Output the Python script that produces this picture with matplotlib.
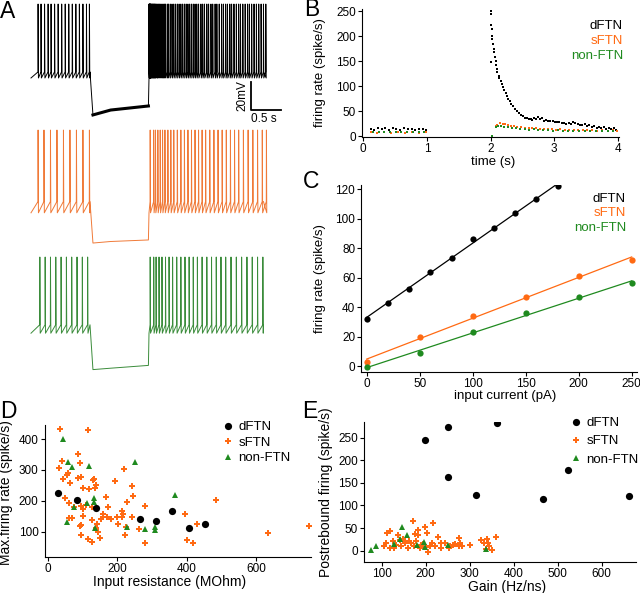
import numpy as np
import matplotlib.pyplot as plt

plt.rcParams['font.family'] = ['Liberation Sans', 'DejaVu Sans']

BLACK = 'black'
ORANGE = '#ff6a13'
GREEN = '#1f8a1f'
ORANGE_TRACE = '#f07a38'
GREEN_TRACE = '#3b8c3b'

# --- B: instantaneous firing rate (dots are at spike times) ---
dftn_t = [0.12, 0.17, 0.23, 0.29, 0.34, 0.40, 0.46, 0.52, 0.58, 0.64, 0.70, 0.76, 0.82, 0.88, 0.94, 0.99,
          2.00, 2.005, 2.01, 2.015, 2.02, 2.025, 2.03, 2.04, 2.05, 2.06, 2.07, 2.08, 2.09, 2.10, 2.11,
          2.13, 2.14, 2.16, 2.18, 2.20, 2.22, 2.24, 2.26, 2.28, 2.31, 2.33, 2.36, 2.39, 2.42, 2.45,
          2.48, 2.51, 2.54, 2.57, 2.60, 2.63, 2.66, 2.69, 2.72, 2.75, 2.78, 2.81, 2.84, 2.88, 2.91,
          2.94, 2.98, 3.01, 3.05, 3.08, 3.12, 3.15, 3.19, 3.23, 3.26, 3.30, 3.33, 3.37, 3.40, 3.44,
          3.48, 3.52, 3.55, 3.59, 3.63, 3.67, 3.70, 3.74, 3.78, 3.82, 3.86, 3.90, 3.94, 3.98]
dftn_rate = [15, 13, 16, 14, 17, 13, 16, 15, 12, 16, 14, 15, 13, 15, 14, 13,
             250, 245, 148, 222, 215, 200, 195, 185, 175, 168, 158, 150, 142, 135, 128,
             121, 116, 110, 104, 98, 92, 86, 80, 75, 70, 65, 60, 55, 50, 46,
             43, 40, 37, 36, 35, 35, 33, 37, 35, 38, 34, 36, 31, 33, 31,
             30, 30, 29, 28, 29, 27, 26, 25, 26, 24, 28, 26, 25, 23, 22,
             24, 20, 22, 18, 20, 17, 19, 16, 18, 15, 17, 14, 16, 13]

sftn_t = [0.12, 0.22, 0.33, 0.44, 0.55, 0.66, 0.77, 0.88, 0.99,
          2.02, 2.08, 2.11, 2.15, 2.19, 2.23, 2.27, 2.32, 2.37, 2.42, 2.48, 2.54, 2.60, 2.66, 2.72,
          2.78, 2.84, 2.90, 2.96, 3.03, 3.10, 3.17, 3.24, 3.31, 3.38, 3.45, 3.52, 3.60, 3.68, 3.76,
          3.84, 3.92, 3.99]
sftn_rate = [8, 7, 8, 7, 8, 7, 8, 7, 8,
             1, 20, 23, 26, 25, 24, 23, 21, 20, 19, 18, 17, 17, 16, 16,
             15, 15, 14, 14, 13, 14, 13, 13, 12, 13, 12, 12, 12, 11, 12,
             11, 12, 11]

nonftn_t = [0.15, 0.24, 0.33, 0.42, 0.51, 0.60, 0.69, 0.78, 0.87, 0.96,
            2.02, 2.08, 2.12, 2.17, 2.22, 2.28, 2.34, 2.40, 2.47, 2.54, 2.61, 2.68, 2.75, 2.82,
            2.90, 2.98, 3.06, 3.14, 3.22, 3.30, 3.39, 3.48, 3.57, 3.66, 3.75, 3.84, 3.93]
nonftn_rate = [9, 8, 9, 8, 9, 8, 9, 8, 9, 8,
               0, 18, 20, 21, 19, 18, 17, 16, 15, 14, 13, 14, 12, 13,
               12, 11, 12, 11, 10, 11, 10, 11, 10, 10, 11, 10, 11]

# --- A: voltage trace levels (same cells as B) ---
step_on, step_off = 1.0, 2.0
hyp_times = [1.05, 1.35, 1.99]
dftn_levels = (-55.7, -51.4, -2.9)      # trough, threshold, peak
sftn_levels = (-152.0, -144.0, -92.9)
nonftn_levels = (-238.0, -232.0, -183.6)
dftn_hyp = [-82.1, -78.6, -75.7]
sftn_hyp = [-173.6, -172.5, -171.4]
nonftn_hyp = [-264.0, -263.0, -261.0]

# --- C: f-I curves ---
dftn_current = [0, 20, 40, 60, 80, 100, 120, 140, 160, 180]
dftn_fi = [32, 42.5, 52.5, 64, 73.5, 86, 93.5, 104, 113, 122]
sftn_current = [0, 50, 100, 150, 200, 250]
sftn_fi = [2.5, 19.5, 34, 47, 61, 72]
nonftn_current = [0, 50, 100, 150, 200, 250]
nonftn_fi = [-0.5, 8.5, 23, 36, 46.5, 56.5]

# --- D: max firing rate vs input resistance ---
d_dftn_r = [29, 82, 138, 265, 310, 358, 407, 453]
d_dftn_f = [226, 203, 176, 140, 134, 167, 111, 124]
d_sftn_r = [35, 114, 87, 39, 92, 32, 58, 53, 42, 63,
            87, 96, 128, 132, 101, 118, 135, 138, 193, 219,
            243, 48, 60, 166, 244, 228, 279, 173, 94, 101,
            125, 212, 157, 159, 212, 241, 198, 181, 61, 152,
            125, 95, 142, 138, 202, 262, 225, 279, 96, 222,
            114, 125, 149, 395, 431, 400, 417, 485, 634, 754,
            91, 171, 215, 108, 70, 100, 145, 75]
d_sftn_f = [431, 429, 351, 330, 323, 305, 289, 283, 270, 259,
            273, 276, 267, 270, 240, 238, 240, 251, 265, 302,
            248, 208, 192, 213, 216, 195, 183, 179, 183, 173,
            179, 168, 157, 149, 149, 149, 149, 140, 143, 140,
            138, 121, 125, 111, 125, 108, 114, 63, 90, 89,
            76, 67, 79, 156, 125, 74, 64, 203, 95, 119,
            119, 149, 157, 185, 145, 150, 100, 180]
d_nonftn_r = [42, 56, 68, 119, 251, 366, 113, 133, 133, 74, 55, 135, 227, 280, 308, 309]
d_nonftn_f = [400, 324, 310, 314, 327, 219, 194, 210, 196, 179, 131, 111, 116, 109, 116, 105]

# --- E: postrebound firing vs gain ---
e_dftn_g = [198, 251, 363, 250, 314, 467, 523, 663]
e_dftn_f = [245, 273, 282, 162, 123, 114, 178, 122]
e_sftn_g = [171, 217, 112, 118, 198, 202, 183, 183, 229, 234,
            110, 105, 118, 125, 133, 141, 144, 152, 160, 167,
            174, 179, 187, 194, 206, 210, 215, 221, 244, 256,
            267, 275, 279, 282, 275, 325, 332, 340, 359, 344,
            351, 336, 342, 252, 137, 176, 128, 148, 163, 190,
            200, 235, 262, 300]
e_sftn_f = [65, 62, 40, 43, 52, 40, 46, 35, 30, 17,
            17, 10, 6, 21, 13, 23, 10, 17, 6, 17,
            11, 21, 6, 15, -4, 11, 18, 10, 17, 11,
            15, 10, 18, 10, 28, 24, 17, 26, 30, 11,
            2, 4, 17, 6, 35, 37, 5, 25, 22, 12,
            8, 5, 13, 12]
e_nonftn_g = [75, 88, 146, 157, 141, 196, 199, 250, 336, 180, 128]
e_nonftn_f = [2, 10, 53, 34, 26, 20, 8, 12, 4, 12, 15]


def style_axes(ax, tick_size):
    for side in ['top', 'right']:
        ax.spines[side].set_visible(False)
    for side in ['left', 'bottom']:
        ax.spines[side].set_linewidth(0.8)
    ax.tick_params(direction='out', length=3, width=0.8, labelsize=tick_size, pad=1.5)


# build a sawtooth voltage trace from spike times
def make_trace(times, levels, hyp):
    trough, tip, peak = levels
    xs, ys = [0.0], [trough]
    pre = [t for t in times if t < step_on]
    post = [t for t in times if t >= step_off]
    for t in pre:
        xs += [t - 0.002, t, t + 0.006]
        ys += [tip, peak, trough]
    xs += [step_on] + hyp_times + [step_off]
    ys += [tip] + hyp + [trough]
    for t in post:
        xs += [t - 0.002, t, t + 0.006]
        ys += [tip, peak, trough]
    xs.append(3.94)
    ys.append(tip)
    return xs, ys


fig = plt.figure(figsize=(6.4, 5.93), dpi=100)
W, H = 640.0, 593.0


def add_axes_px(left, top, right, bottom):
    return fig.add_axes([left / W, (H - bottom) / H, (right - left) / W, (bottom - top) / H])


# Panel A
axA = add_axes_px(20, 0, 290, 385)
axA.set_xlim(-11 / 59, 259 / 59)
axA.set_ylim(-275, 0)
axA.axis('off')
for times, levels, hyp, col in [(dftn_t, dftn_levels, dftn_hyp, BLACK),
                                (sftn_t, sftn_levels, sftn_hyp, ORANGE_TRACE),
                                (nonftn_t, nonftn_levels, nonftn_hyp, GREEN_TRACE)]:
    xs, ys = make_trace(times, levels, hyp)
    axA.plot(xs, ys, color=col, lw=0.7)
axA.plot(hyp_times, dftn_hyp, color=BLACK, lw=2.2)
sb_x, sb_y = 3.73, -78.6
axA.plot([sb_x, sb_x, sb_x + 0.5], [sb_y + 20, sb_y, sb_y], color=BLACK, lw=1.3)
axA.text(sb_x - 0.14, sb_y + 10, '20mV', rotation=90, ha='center', va='center', fontsize=8.5)
axA.text(sb_x + 0.22, sb_y - 6.5, '0.5 s', ha='center', va='center', fontsize=8.5)

# Panel B
axB = add_axes_px(362, 9, 619, 137)
axB.plot(dftn_t, dftn_rate, 's', ms=1.7, mew=0, color=BLACK)
axB.plot(sftn_t, sftn_rate, 's', ms=1.7, mew=0, color=ORANGE)
axB.plot(nonftn_t, nonftn_rate, 's', ms=1.7, mew=0, color=GREEN)
axB.set_xlim(-0.02, 4.02)
axB.set_ylim(-2, 255)
axB.set_xticks([0, 1, 2, 3, 4])
axB.set_yticks([0, 50, 100, 150, 200, 250])
style_axes(axB, 8.5)
axB.set_xlabel('time (s)', fontsize=9.5)
axB.set_ylabel('firing rate (spike/s)', fontsize=9.5)
axB.xaxis.set_label_coords(0.51, -0.148)
axB.yaxis.set_label_coords(-0.14, 0.5)
for lab, col, yy in [('dFTN', BLACK, 0.867), ('sFTN', ORANGE, 0.75), ('non-FTN', GREEN, 0.633)]:
    axB.text(1.016, yy, lab, color=col, fontsize=9.5, ha='right', va='center', transform=axB.transAxes)

# Panel C
axC = add_axes_px(361.4, 184.7, 637, 371.9)
for cur, fi, col, xmax in [(dftn_current, dftn_fi, BLACK, 180),
                           (sftn_current, sftn_fi, ORANGE, 250),
                           (nonftn_current, nonftn_fi, GREEN, 250)]:
    slope, icpt = np.polyfit(cur, fi, 1)
    axC.plot([0, xmax], [icpt, icpt + slope * xmax], color=col, lw=0.9)
    axC.plot(cur, fi, 'o', ms=4.5, mew=0, color=col)
axC.set_xlim(-5, 255)
axC.set_ylim(-4, 123)
axC.set_xticks([0, 50, 100, 150, 200, 250])
axC.set_yticks([0, 20, 40, 60, 80, 100, 120])
style_axes(axC, 8.5)
axC.set_xlabel('input current (pA)', fontsize=9.5)
axC.set_ylabel('firing rate (spike/s)', fontsize=9.5)
axC.xaxis.set_label_coords(0.52, -0.097)
axC.yaxis.set_label_coords(-0.128, 0.5)
for lab, col, yy in [('dFTN', BLACK, 0.924), ('sFTN', ORANGE, 0.849), ('non-FTN', GREEN, 0.769)]:
    axC.text(0.96, yy, lab, color=col, fontsize=9.5, ha='right', va='center', transform=axC.transAxes)

# Panel D
axD = add_axes_px(44.8, 425.1, 311.3, 557)
axD.plot(d_sftn_r, d_sftn_f, 'P', ms=4.2, mew=0, color=ORANGE, ls='none', label='sFTN')
axD.plot(d_nonftn_r, d_nonftn_f, '^', ms=4.5, mew=0, color=GREEN, ls='none', label='non-FTN')
axD.plot(d_dftn_r, d_dftn_f, 'o', ms=5.2, mew=0, color=BLACK, ls='none', label='dFTN')
axD.set_xlim(-10, 760)
axD.set_ylim(18, 445)
axD.set_xticks([0, 200, 400, 600])
axD.set_yticks([100, 200, 300, 400])
style_axes(axD, 8.5)
axD.set_xlabel('Input resistance (MOhm)', fontsize=10)
axD.set_ylabel('Max.firing rate (spike/s)', fontsize=10)
axD.xaxis.set_label_coords(0.47, -0.138)
axD.yaxis.set_label_coords(-0.119, 0.49)

# Panel E
axE = add_axes_px(364.1, 421.9, 636, 561.5)
axE.plot(e_sftn_g, e_sftn_f, 'P', ms=4.2, mew=0, color=ORANGE, ls='none', label='sFTN')
axE.plot(e_nonftn_g, e_nonftn_f, '^', ms=4.5, mew=0, color=GREEN, ls='none', label='non-FTN')
axE.plot(e_dftn_g, e_dftn_f, 'o', ms=5.2, mew=0, color=BLACK, ls='none', label='dFTN')
axE.set_xlim(60, 678)
axE.set_ylim(-24, 285)
axE.set_xticks([100, 200, 300, 400, 500, 600])
axE.set_yticks([0, 50, 100, 150, 200, 250])
style_axes(axE, 8.5)
axE.set_xlabel('Gain (Hz/ns)', fontsize=10)
axE.set_ylabel('Postrebound firing (spike/s)', fontsize=10)
axE.xaxis.set_label_coords(0.524, -0.132)
axE.yaxis.set_label_coords(-0.114, 0.5)

for ax, anchor, spacing in [(axD, (0.663, 1.03), 0.25), (axE, (0.755, 1.035), 0.45)]:
    handles, labels = ax.get_legend_handles_labels()
    order = [2, 0, 1]
    ax.legend([handles[i] for i in order], [labels[i] for i in order], loc='upper left',
              bbox_to_anchor=anchor, frameon=False, fontsize=9.5, handlelength=1.0,
              handletextpad=0.3, labelspacing=spacing, borderpad=0, borderaxespad=0)

# panel letters
for lab, x, y in [('A', 8, 11), ('B', 312, 10), ('C', 311, 182), ('D', 8, 411), ('E', 310, 411)]:
    fig.text(x / W, 1 - y / H, lab, fontsize=16.5, ha='center', va='center')

fig.savefig('out.png', dpi=100)
